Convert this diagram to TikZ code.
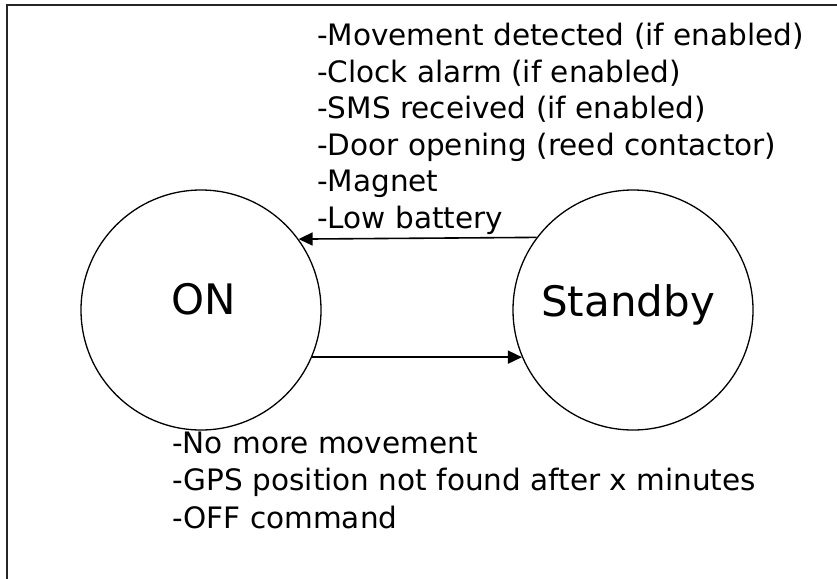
\documentclass[tikz,border=0pt]{standalone}
\usepackage{fontspec}
\setmainfont{DejaVu Sans}
\usetikzlibrary{arrows.meta}
\begin{document}
\begin{tikzpicture}[x=1pt,y=-1pt,
  state/.style={circle,draw,line width=1.3pt,minimum size=240pt,inner sep=0pt},
  statename/.style={anchor=base,inner sep=0pt,font=\fontsize{42}{50}\selectfont},
  cond/.style={anchor=base west,inner sep=0pt,font=\fontsize{29.5}{35}\selectfont},
  trans/.style={line width=1.6pt,-{Triangle[length=14pt,width=13pt]}}]
  \useasboundingbox (0,0) rectangle (837,578);
  % frame (only its top and left edges fall inside the page)
  \draw[line width=2pt,black!85] (7,600) -- (7,5) -- (860,5);
  % states
  \node[state] (on) at (201,310) {};
  \node[state] (sb) at (633,310) {};
  \node[statename] (ontext) at (204,314) {ON};
  \node[statename] (sbtext) at (628,316) {Standby};
  % transitions
  \draw[trans] (sb.143.13) -- (on.36.87);
  \draw[trans] (on.-23.58) -- (sb.203.58);
  % wake-up conditions
  \node[cond] (w1) at (317,45.5) {-Movement detected (if enabled)};
  \node[cond] (w2) at (317,82) {-Clock alarm (if enabled)};
  \node[cond] (w3) at (317,118.5) {-SMS received (if enabled)};
  \node[cond] (w4) at (317,155) {-Door opening (reed contactor)};
  \node[cond] (w5) at (317,191.5) {-Magnet};
  \node[cond] (w6) at (317,228) {-Low battery};
  % sleep conditions
  \node[cond] (s1) at (172,453.3) {-No more movement};
  \node[cond] (s2) at (172,490.8) {-GPS position not found after x minutes};
  \node[cond] (s3) at (172,528.3) {-OFF command};
\end{tikzpicture}
\end{document}
